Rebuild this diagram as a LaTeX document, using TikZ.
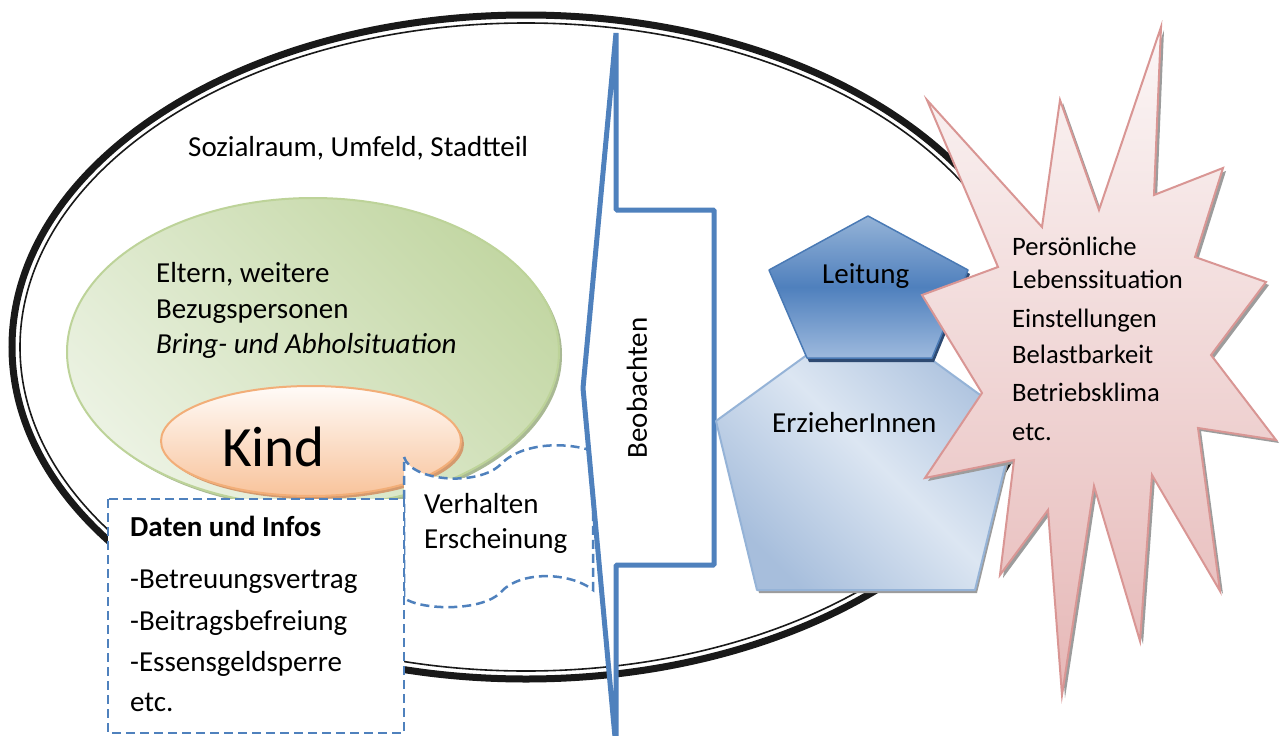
\documentclass[tikz,border=0pt]{standalone}
\usepackage{fontspec}
\setmainfont{Carlito}
\definecolor{accentblue}{HTML}{4F81BD}
\definecolor{greenedge}{HTML}{BDD399}
\definecolor{greenlight}{HTML}{EBF2E2}
\definecolor{greendark}{HTML}{C3D7A4}
\definecolor{greenshadow}{HTML}{A9B994}
\definecolor{kindtop}{HTML}{FFFBF8}
\definecolor{kindbottom}{HTML}{F8C39B}
\definecolor{kindedge}{HTML}{F2AE78}
\definecolor{kindshadow}{HTML}{D49A6E}
\definecolor{leittop}{HTML}{95B3D7}
\definecolor{leitmid}{HTML}{4F80BD}
\definecolor{leitbottom}{HTML}{9DB9DD}
\definecolor{leitedge}{HTML}{4A7AB5}
\definecolor{leitshadow}{HTML}{2E4A72}
\definecolor{erzdark}{HTML}{A7BEDC}
\definecolor{erzlight}{HTML}{DCE6F2}
\definecolor{erzedge}{HTML}{95B3D7}
\definecolor{startop}{HTML}{FBF6F6}
\definecolor{starbottom}{HTML}{E6B8B7}
\definecolor{staredge}{HTML}{D99694}
\definecolor{shadowgray}{HTML}{9C9C9C}
\begin{document}
\begin{tikzpicture}[x=1pt,y=-1pt,
  txt/.style={anchor=base west, inner sep=0pt, font=\fontsize{29}{34}\selectfont},
  startxt/.style={txt, font=\fontsize{26.6}{31}\selectfont},
  dashedbox/.style={draw=accentblue, line width=2.5pt, dash pattern=on 9pt off 5pt, fill=white},
  blueframe/.style={draw=accentblue, line width=5pt, fill=white, line join=bevel},
]
\useasboundingbox (0,0) rectangle (1280,736);
\fill[white] (0,0) rectangle (1280,736);

% outer social-space ellipse: thick-thin double rule
\draw[black!90, line width=7pt] (526,347) ellipse (514 and 332);
\draw[black!90, line width=1.6pt] (526,347) ellipse (506 and 324);

% parents ellipse
\fill[greenshadow] (316,355) ellipse (246 and 154);
\shadedraw[left color=greenlight, right color=greendark, shading angle=135,
  draw=greenedge, line width=2pt] (313,352) ellipse (246 and 154);

% child ellipse
\fill[kindshadow] (314,444) ellipse (150 and 55);
\shadedraw[top color=kindtop, bottom color=kindbottom, draw=kindedge, line width=2pt]
  (311,441) ellipse (150 and 55);

% behaviour / appearance banner
\filldraw[dashedbox] (404,457) .. controls (412,482) and (478,486) .. (500,465)
  .. controls (518,445) and (560,440) .. (593,451) -- (593,590)
  .. controls (570,572) and (520,570) .. (500,593)
  .. controls (480,612) and (420,610) .. (404,598) -- cycle;

% data box
\filldraw[dashedbox] (108,499) rectangle (404,733);

% observation wedge
\filldraw[blueframe] (616,33) -- (616,210) -- (714,210) -- (714,565) -- (616,565)
  -- (616,748) -- (583,388) -- cycle;

% educators pentagon
\fill[shadowgray] ([shift={(2,3)}]866,312) -- ([shift={(2,3)}]1016,421) -- ([shift={(2,3)}]975,590)
  -- ([shift={(2,3)}]757,590) -- ([shift={(2,3)}]716,421) -- cycle;
\shadedraw[left color=erzdark, right color=erzdark, middle color=erzlight, shading angle=135,
  draw=erzedge, line width=2pt, line join=round]
  (866,312) -- (1016,421) -- (975,590) -- (757,590) -- (716,421) -- cycle;

% management pentagon
\fill[leitshadow] ([shift={(2,4)}]868,216) -- ([shift={(2,4)}]968,270) -- ([shift={(2,4)}]932,358)
  -- ([shift={(2,4)}]807,358) -- ([shift={(2,4)}]769,270) -- cycle;
\shadedraw[top color=leittop, bottom color=leitbottom, middle color=leitmid,
  draw=leitedge, line width=1.5pt, line join=round]
  (868,216) -- (968,270) -- (932,358) -- (807,358) -- (769,270) -- cycle;

% personal situation burst
\def\burst{(927,100) -- (1042,227) -- (1060,100) -- (1099,210) -- (1161,27) -- (1154,195)
  -- (1223,168) -- (1195,257) -- (1266,282) -- (1211,355) -- (1276,440) -- (1198,428)
  -- (1220,591) -- (1152,475) -- (1140,641) -- (1094,486) -- (1062,695) -- (1048,510)
  -- (1000,575) -- (1014,460) -- (925,478) -- (982,393) -- (922,295) -- (998,267) -- cycle}
\begin{scope}[shift={(3,3)}]
  \fill[shadowgray] \burst;
\end{scope}
\shadedraw[top color=startop, bottom color=starbottom, draw=staredge, line width=2pt,
  line join=miter] \burst;

% labels
\node[txt] (sozial) at (188,156) {Sozialraum, Umfeld, Stadtteil};
\node[txt] (eltern1) at (156,282) {Eltern, weitere};
\node[txt] (eltern2) at (156,318) {Bezugspersonen};
\node[txt] (eltern3) at (156,353) {\itshape Bring- und Abholsituation};
\node[txt, font=\fontsize{57}{62}\selectfont] (kind) at (222,466) {Kind};
\node[txt] (verh1) at (424,513) {Verhalten};
\node[txt] (verh2) at (424,548) {Erscheinung};
\node[txt] (daten0) at (130,536) {\bfseries Daten und Infos};
\node[txt] (daten1) at (130,588) {-Betreuungsvertrag};
\node[txt] (daten2) at (130,630) {-Beitragsbefreiung};
\node[txt] (daten3) at (130,671) {-Essensgeldsperre};
\node[txt] (daten4) at (130,711) {etc.};
\node[inner sep=0pt, rotate=90, font=\fontsize{29}{34}\selectfont] (beob) at (637,388) {Beobachten};
\node[txt] (leitung) at (822,283) {Leitung};
\node[txt] (erz) at (772,432) {ErzieherInnen};
\node[startxt] (pers1) at (1012,255) {Persönliche};
\node[startxt] (pers2) at (1012,288) {Lebenssituation};
\node[startxt] (pers3) at (1012,327) {Einstellungen};
\node[startxt] (pers4) at (1012,363) {Belastbarkeit};
\node[startxt] (pers5) at (1012,401) {Betriebsklima};
\node[startxt] (pers6) at (1012,440) {etc.};
\end{tikzpicture}
\end{document}
